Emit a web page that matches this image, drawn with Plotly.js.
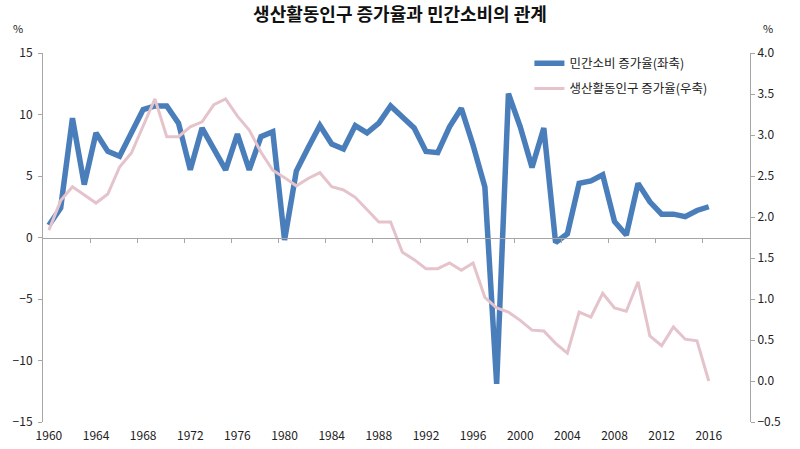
<!DOCTYPE html>
<html><head><meta charset="utf-8">
<script src="https://cdn.plot.ly/plotly-3.0.1.min.js"></script>
<style>html,body{margin:0;padding:0;background:#fff}#c{width:800px;height:449px}</style>
</head><body><div id="c"></div>
<script>
const years = [];
for (let y = 1960; y <= 2016; y++) years.push(y);
const consumptionGrowth = [1.0,2.4,9.7,4.3,8.5,7.0,6.6,8.6,10.4,10.7,
  10.7,9.3,5.5,8.9,7.2,5.5,8.4,5.5,8.2,8.6,
  -0.2,5.4,7.3,9.1,7.6,7.2,9.1,8.5,9.3,10.7,
  9.8,8.9,7.0,6.9,9.0,10.5,7.5,4.1,-11.9,11.7,
  9.0,5.7,8.9,-0.4,0.3,4.4,4.6,5.1,1.3,0.2,
  4.4,2.9,1.9,1.9,1.7,2.2,2.5];
const workingAgeGrowth = [1.84,2.2,2.37,2.27,2.17,2.28,2.61,2.78,3.1,3.44,
  2.98,2.98,3.1,3.16,3.37,3.44,3.23,3.06,2.79,2.57,
  2.48,2.38,2.47,2.54,2.37,2.33,2.24,2.09,1.94,1.94,
  1.57,1.48,1.37,1.37,1.44,1.35,1.44,1.02,0.89,0.84,
  0.74,0.62,0.61,0.46,0.34,0.84,0.78,1.07,0.89,0.85,
  1.21,0.55,0.43,0.66,0.51,0.49,0.0];
const tickYears = [1960,1964,1968,1972,1976,1980,1984,1988,1992,1996,2000,2004,2008,2012,2016];
const seriesNames = ['민간소비 증가율(좌축)', '생산활동인구 증가율(우축)'];
const titleText = '생산활동인구 증가율과 민간소비의 관계';

const boundaryTicks = tickYears.slice(1).map(y => y - 0.5);
const font = 'Liberation Sans Narrow, Arial Narrow, Noto Sans CJK KR, sans-serif';

const traces = [
  {x: years, y: consumptionGrowth, name: seriesNames[0], type: 'scatter', mode: 'lines',
   line: {color: '#4a7ebb', width: 5.5}, xaxis: 'x', yaxis: 'y', legendgroup: 'a'},
  {x: years, y: workingAgeGrowth, name: seriesNames[1], type: 'scatter', mode: 'lines',
   line: {color: '#e5c3cb', width: 3}, xaxis: 'x2', yaxis: 'y2', legendgroup: 'b'}
];

const layout = {
  width: 800, height: 449,
  margin: {l: 43, r: 50, t: 53, b: 27},
  paper_bgcolor: '#fff', plot_bgcolor: '#fff',
  font: {family: font, size: 12, color: '#222'},
  title: {text: titleText, x: 0.5, xanchor: 'center', y: 0.968, yref: 'container', yanchor: 'middle',
    font: {family: 'Noto Sans CJK KR, sans-serif', size: 18, color: '#111', weight: 'bold'}},
  showlegend: true,
  legend: {x: 0.688, y: 1.012, xanchor: 'left', yanchor: 'top', bgcolor: 'rgba(0,0,0,0)',
    font: {family: 'Noto Sans CJK KR, sans-serif', size: 12.5, color: '#222'},
    traceorder: 'grouped', tracegroupgap: 6, itemwidth: 30},
  xaxis: {range: [1959.5, 2019.5], tickvals: tickYears, ticktext: tickYears.map(String),
    showline: false, ticks: '', showgrid: false, zeroline: false, fixedrange: true,
    ticklabelstandoff: 5, tickfont: {size: 12, color: '#222'}},
  xaxis2: {range: [1959.5, 2019.5], overlaying: 'x', anchor: 'free', position: 0.5,
    showline: true, linecolor: '#a6a6a6', linewidth: 1.5, ticks: 'outside', ticklen: 4,
    tickcolor: '#a6a6a6', tickvals: boundaryTicks, showticklabels: false, showgrid: false, zeroline: false},
  yaxis: {range: [-15, 15], dtick: 5, tick0: 0, showline: true, linecolor: '#a6a6a6', linewidth: 1,
    ticks: 'outside', ticklen: 4, tickcolor: '#a6a6a6', showgrid: false, zeroline: false,
    ticklabelstandoff: 3, tickfont: {size: 12, color: '#222'}},
  yaxis2: {range: [-0.5, 4], dtick: 0.5, tick0: 0, tickformat: '.1f', overlaying: 'y', side: 'right',
    showline: true, linecolor: '#a6a6a6', linewidth: 1, ticks: 'outside', ticklen: 4,
    tickcolor: '#a6a6a6', showgrid: false, zeroline: false, tickfont: {size: 12, color: '#222'}},
  annotations: [
    {text: '%', xref: 'paper', yref: 'paper', x: -0.035, y: 1.04, xanchor: 'center', yanchor: 'bottom',
     showarrow: false, font: {size: 11, color: '#222'}},
    {text: '%', xref: 'paper', yref: 'paper', x: 1.015, y: 1.04, xanchor: 'left', yanchor: 'bottom',
     showarrow: false, font: {size: 11, color: '#222'}}
  ]
};
Plotly.newPlot('c', traces, layout, {displayModeBar: false, staticPlot: true});
</script></body></html>
